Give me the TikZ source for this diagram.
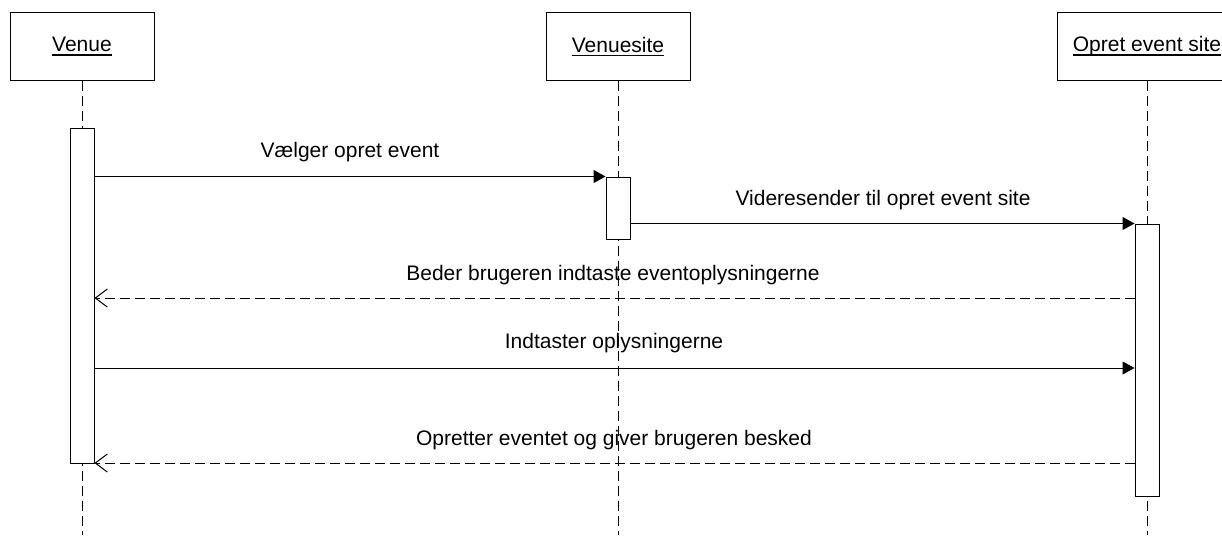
\documentclass[tikz,border=0pt]{standalone}
\usepackage{fontspec}
\setmainfont{Liberation Sans}
\usetikzlibrary{arrows.meta}
\newcommand{\ulbl}[1]{\setbox0\hbox{#1}\rlap{\rule[-3.6pt]{\wd0}{1.1pt}}\box0}
\begin{document}
\begin{tikzpicture}[x=1pt,y=-1pt,
  every node/.style={font=\fontsize{21pt}{25pt}\selectfont},
  header/.style={draw, line width=1pt, fill=white, minimum width=144pt, minimum height=67pt, inner sep=0pt},
  act/.style={draw, line width=1pt, fill=white, minimum width=24pt, inner sep=0pt},
  lifeline/.style={line width=1pt, dash pattern=on 10pt off 5pt},
  call/.style={line width=1pt, -{Triangle[length=12pt,width=13pt]}},
  reply/.style={line width=1pt, dash pattern=on 10pt off 5pt, -{Straight Barb[length=12pt,width=18pt,line width=1pt]}},
  lbl/.style={anchor=base, inner sep=0pt}
]
\useasboundingbox (0,0) rectangle (1222,535);
% headers
\node[header] (hV) at (82,46.5) {\ulbl{Venue}};
\node[header] (hVS) at (618,46.5) {\ulbl{Venuesite}};
\begin{scope}
\clip (0,0) rectangle (1222,535);
\node[header, minimum width=180pt] (hO) at (1147,46.5) {\ulbl{Opret event site}};
\end{scope}
% lifelines
\coordinate (bot) at (0,535);
\draw[lifeline] (hV.south) -- (hV.south |- bot);
\draw[lifeline] (hVS.south) -- (hVS.south |- bot);
\draw[lifeline] (hO.south) -- (hO.south |- bot);
% activations
\node[act, minimum height=335pt] (aV) at (82,295.5) {};
\node[act, minimum height=62pt] (aVS) at (618,208) {};
\node[act, minimum height=272pt] (aO) at (1147,360) {};
% messages
\coordinate (m3) at (0,298);
\coordinate (m4) at (0,368);
\coordinate (m5) at (0,463);
\draw[call] (aV.east |- aVS.north) -- (aVS.north west);
\draw[call] (aVS.east |- aO.north) -- (aO.north west);
\draw[reply] (aO.west |- m3) -- (aV.east |- m3);
\draw[call] (aV.east |- m4) -- (aO.west |- m4);
\draw[reply] (aO.west |- m5) -- (aV.east |- m5);
% labels
\node[lbl] (l1) at (350,157) {Vælger opret event};
\node[lbl] (l2) at (883,205) {Videresender til opret event site};
\node[lbl] (l3) at (613,280) {Beder brugeren indtaste eventoplysningerne};
\node[lbl] (l4) at (614,348) {Indtaster oplysningerne};
\node[lbl] (l5) at (614,445) {Opretter eventet og giver brugeren besked};
\end{tikzpicture}
\end{document}
